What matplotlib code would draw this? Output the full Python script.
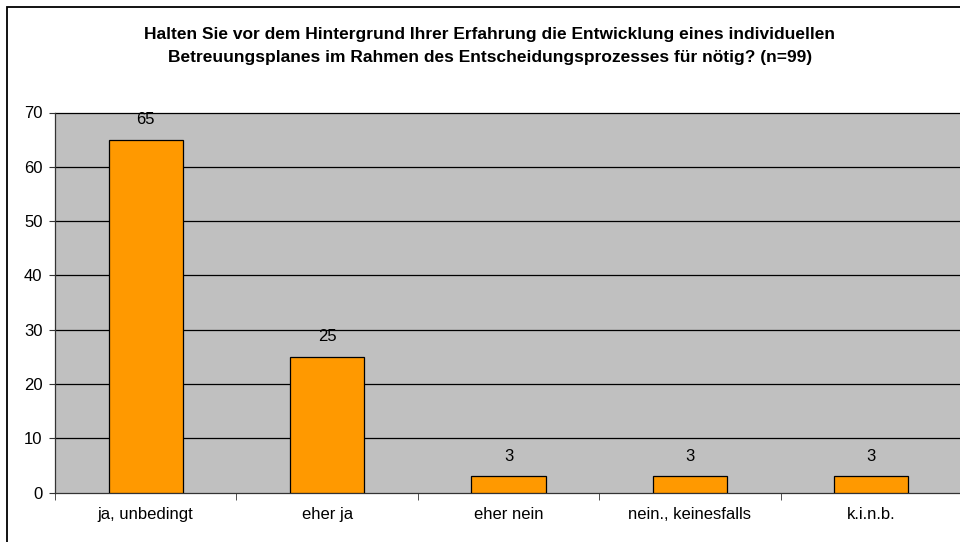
import matplotlib
matplotlib.use("Agg")
import matplotlib.pyplot as plt
from matplotlib.patches import Rectangle

categories = ["ja, unbedingt", "eher ja", "eher nein", "nein., keinesfalls", "k.i.n.b."]
counts = [65, 25, 3, 3, 3]
yticks = [0, 10, 20, 30, 40, 50, 60, 70]
title = ("Halten Sie vor dem Hintergrund Ihrer Erfahrung die Entwicklung eines individuellen\n"
         "Betreuungsplanes im Rahmen des Entscheidungsprozesses für nötig? (n=99)")

plt.rcParams["font.family"] = ["Liberation Sans", "DejaVu Sans"]

W, H = 960, 542
fig = plt.figure(figsize=(W / 100, H / 100), dpi=100)

# outer chart frame (right/bottom edges run off the picture)
fig.patches.append(Rectangle((7 / W, -0.1), 1.2, (535 / H) + 0.1, transform=fig.transFigure,
                             fill=False, edgecolor="black", linewidth=1.3))

left, right, top, bottom = 55, 962, 112.5, 492.7
ax = fig.add_axes([left / W, 1 - bottom / H, (right - left) / W, (bottom - top) / H])
ax.set_facecolor("#C0C0C0")

x = list(range(len(categories)))
ax.bar(x, counts, width=0.41, color="#FF9900", edgecolor="black", linewidth=0.9, zorder=3)
for xi, v in zip(x, counts):
    ax.annotate(str(v), (xi, v), xytext=(0, 9), textcoords="offset points",
                ha="center", va="bottom", fontsize=12)

ax.set_xlim(-0.5, len(categories) - 0.5)
ax.set_ylim(0, 70)
ax.set_yticks(yticks)
ax.tick_params(axis="y", labelsize=12, length=4, pad=5, color="#333333")
for y in yticks[1:]:
    ax.axhline(y, color="black", linewidth=0.9, zorder=1, clip_on=False)

ax.set_xticks(x)
ax.set_xticklabels(categories)
ax.set_xticks([i - 0.5 for i in range(len(categories) + 1)], minor=True)
ax.tick_params(axis="x", which="major", length=0, labelsize=12, pad=10)
ax.tick_params(axis="x", which="minor", length=5, color="#333333")

for s in ["top", "right"]:
    ax.spines[s].set_visible(False)
for s in ["left", "bottom"]:
    ax.spines[s].set_color("#333333")
    ax.spines[s].set_linewidth(0.9)

fig.text(490 / W, 1 - 46 / H, title, ha="center", va="center", fontsize=12.5,
         fontweight="bold", linespacing=1.65)

fig.savefig("out.png", dpi=100)
